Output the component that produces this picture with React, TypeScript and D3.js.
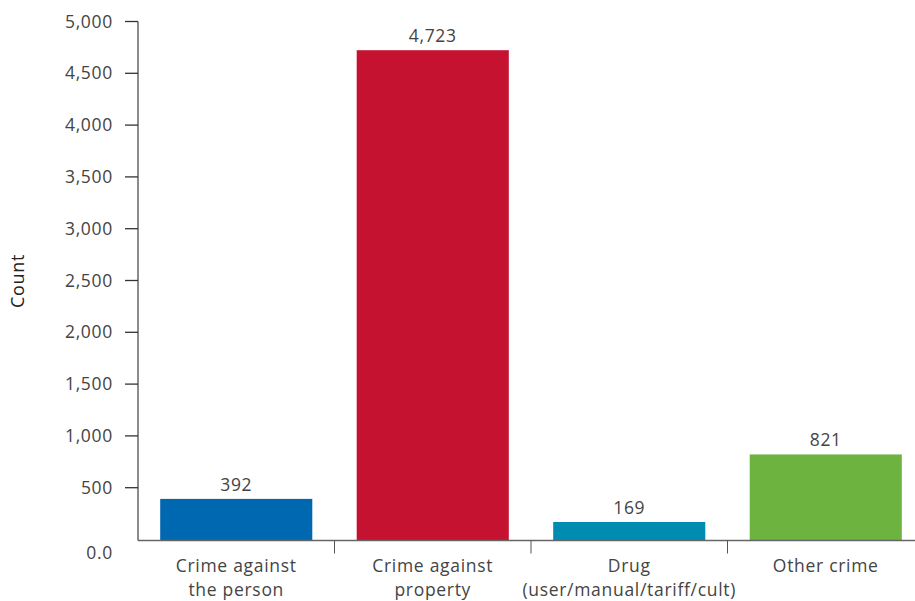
import React from "react";
import * as d3 from "d3";

const categories: string[][] = [
  ["Crime against", "the person"],
  ["Crime against", "property"],
  ["Drug", "(user/manual/tariff/cult)"],
  ["Other crime"],
];
const values: number[] = [392, 4723, 169, 821];
const colors: string[] = ["#0067b1", "#c41230", "#008bb0", "#6db33f"];
const yTicks: number[] = [500, 1000, 1500, 2000, 2500, 3000, 3500, 4000, 4500, 5000];
const yTitle = "Count";

const W = 915;
const H = 601;
const left = 138;
const right = 924;
const baseY = 540.5;
const topY = 21.5;
const font = "'Open Sans', Roboto, sans-serif";
const textColor = "#444";
const axisColor = "#666";
const ls = 0.7;

export default function App() {
  const x = d3
    .scaleBand<number>()
    .domain(values.map((_, i) => i))
    .range([left, right])
    .paddingInner(0.226)
    .paddingOuter(0.113);
  const y = d3.scaleLinear().domain([0, 5000]).range([baseY - 1, topY]);
  const fmt = d3.format(",");
  const step = x.step();

  return (
    <svg
      width={W}
      height={H}
      style={{ position: "absolute", left: 0, top: 0, background: "#fff" }}
    >
      {values.map((v, i) => (
        <rect
          key={i}
          x={x(i)}
          y={y(v)}
          width={x.bandwidth()}
          height={baseY - y(v)}
          fill={colors[i]}
        />
      ))}
      {values.map((v, i) => (
        <text
          key={"v" + i}
          x={(x(i) as number) + x.bandwidth() / 2}
          y={y(v) - 8}
          textAnchor="middle"
          fontFamily={font}
          fontSize={17.5}
          letterSpacing={ls}
          fill={textColor}
        >
          {fmt(v)}
        </text>
      ))}
      <line x1={left} x2={left} y1={y(5000)} y2={baseY} stroke={axisColor} strokeWidth={1.5} />
      {yTicks.map((t) => (
        <g key={t}>
          <line x1={left - 13} x2={left} y1={y(t)} y2={y(t)} stroke="#333" strokeWidth={1.3} />
          <text
            x={left - 25}
            y={y(t)}
            dy="0.35em"
            textAnchor="end"
            fontFamily={font}
            fontSize={17.5}
            letterSpacing={ls}
            fill={textColor}
          >
            {fmt(t)}
          </text>
        </g>
      ))}
      <text
        x={left - 25}
        y={553}
        dy="0.35em"
        textAnchor="end"
        fontFamily={font}
        fontSize={17.5}
        letterSpacing={ls}
        fill={textColor}
      >
        0.0
      </text>
      <line x1={left} x2={W} y1={baseY} y2={baseY} stroke={axisColor} strokeWidth={1.5} />
      {values.slice(1).map((_, i) => {
        const tx = left + step * (i + 1);
        return (
          <line key={"t" + i} x1={tx} x2={tx} y1={baseY} y2={baseY + 13} stroke="#555" strokeWidth={1} />
        );
      })}
      {categories.map((lines, i) => (
        <text
          key={"c" + i}
          x={(x(i) as number) + x.bandwidth() / 2}
          y={572}
          textAnchor="middle"
          fontFamily={font}
          fontSize={17.5}
          letterSpacing={ls}
          fill={textColor}
        >
          {lines.map((l, j) => (
            <tspan key={j} x={(x(i) as number) + x.bandwidth() / 2} dy={j === 0 ? 0 : 24}>
              {l}
            </tspan>
          ))}
        </text>
      ))}
      <text
        transform={`translate(24, ${(baseY + topY) / 2}) rotate(-90)`}
        textAnchor="middle"
        fontFamily={font}
        fontSize={18}
        letterSpacing={ls}
        fill="#222"
      >
        {yTitle}
      </text>
    </svg>
  );
}
